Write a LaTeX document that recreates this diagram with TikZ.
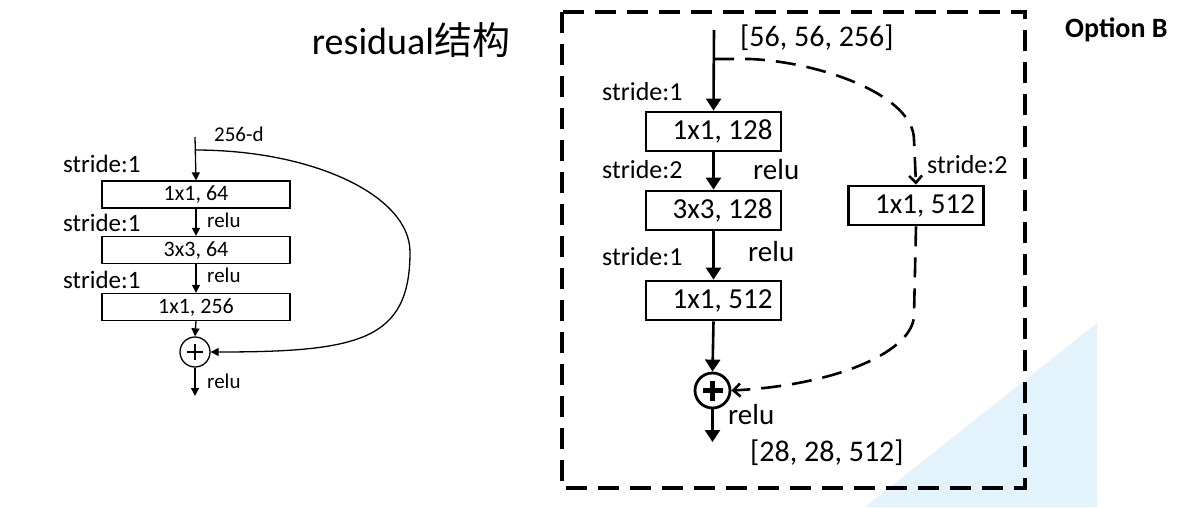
\documentclass[tikz,border=0pt]{standalone}
\usepackage{fontspec}
\setmainfont{Carlito}
\newfontfamily\cjk{Noto Sans CJK SC}
\usetikzlibrary{arrows.meta}
\definecolor{tri}{HTML}{E3F3FC}
\begin{document}
\begin{tikzpicture}[x=1pt,y=-1pt,
  lbox/.style={draw, line width=1.3pt, minimum width=188pt, minimum height=27pt, inner sep=0pt, font=\fontsize{22}{24}\selectfont},
  rbox/.style={draw, line width=2.8pt, minimum width=135pt, minimum height=39pt, inner sep=0pt, font=\fontsize{29}{32}\selectfont},
  lline/.style={line width=1.3pt, -{Triangle[length=8pt,width=8pt]}},
  rline/.style={line width=2.6pt, -{Triangle[length=12pt,width=15pt]}},
  rdash/.style={line width=2.6pt, dash pattern=on 20pt off 11pt, -{Straight Barb[length=7pt,width=13pt]}},
  lab/.style={anchor=west, inner sep=0pt},
  llab/.style={lab, font=\fontsize{25}{27}\selectfont},
  lrelu/.style={lab, font=\fontsize{21}{23}\selectfont},
  rlab/.style={lab, font=\fontsize{26}{28}\selectfont},
  rrelu/.style={lab, font=\fontsize{29}{31}\selectfont}
]
\useasboundingbox (0,0) rectangle (1184,507);
% background shape
\fill[tri] (865,507) -- (1097,323) -- (1097,507) -- cycle;

% title
\node[inner sep=0pt, font=\fontsize{38}{40}\selectfont] (title) at (411,40) {residual{\cjk 结构}};
\node[lab, font=\bfseries\fontsize{28}{30}\selectfont] (opt) at (1065,30) {Option B};

% ---------- left diagram ----------
\coordinate (lin) at (195,137);
\coordinate (lsplit) at (195,150);
\node[lbox] (lb1) at (196,194.5) {1x1, 64};
\node[lbox] (lb2) at (196,250) {3x3, 64};
\node[lbox] (lb3) at (196,307) {1x1, 256};
\node[circle, draw, line width=1.3pt, minimum size=30pt, inner sep=0pt] (lc) at (195,352) {};
\draw[line width=1.3pt] (lc.center) ++(-8,0) -- ++(16,0);
\draw[line width=1.3pt] (lc.center) ++(0,-8) -- ++(0,16);
\coordinate (lout) at (195,396);

\node[lab, font=\fontsize{21}{23}\selectfont] (l256) at (214,134) {256-d};
\node[llab] (ls1) at (63,164) {stride:1};
\node[llab] (ls2) at (63,223) {stride:1};
\node[llab] (ls3) at (63,280) {stride:1};
\node[lrelu] (lr1) at (207,220) {relu};
\node[lrelu] (lr2) at (207,275) {relu};
\node[lrelu] (lr3) at (207,381) {relu};

\draw[lline] (lin) -- (lb1.north);
\draw[lline] (lb1.south) -- (lb2.north);
\draw[lline] (lb2.south) -- (lb3.north);
\draw[lline] (lb3.south) -- (lc.north);
\draw[lline] (lc.south) -- (lout);
\draw[lline] (lsplit) .. controls (314,150) and (410,196) .. (410,252)
  .. controls (410,340) and (360,352) .. (lc.east);

% ---------- right diagram ----------
\draw[line width=3.2pt, dash pattern=on 21pt off 11pt] (562,12) rectangle (1025,488);
\coordinate (rin) at (714,30);
\coordinate (rsplit) at (714,59);
\node[rbox] (rb1) at (713.5,131.5) {\hspace*{18pt}1x1, 128};
\node[rbox] (rb2) at (713.5,210.5) {\hspace*{18pt}3x3, 128};
\node[rbox] (rb3) at (713.5,300.5) {\hspace*{18pt}1x1, 512};
\node[rbox] (rbs) at (916,205.5) {\hspace*{18pt}1x1, 512};
\node[circle, draw, line width=2.8pt, minimum size=35pt, inner sep=0pt] (rc) at (712.5,390.5) {};
\draw[line width=5pt] (rc.center) ++(-10,0) -- ++(20,0);
\draw[line width=5pt] (rc.center) ++(0,-10) -- ++(0,20);
\coordinate (rout) at (712.5,442);

\node[lab, font=\fontsize{30}{32}\selectfont] (rinl) at (740,38) {[56, 56, 256]};
\node[lab, font=\fontsize{30}{32}\selectfont] (routl) at (750,453) {[28, 28, 512]};
\node[rlab] (rs1) at (602,92) {stride:1};
\node[rlab] (rs2) at (602,170) {stride:2};
\node[rlab] (rs3) at (602,257) {stride:1};
\node[rlab] (rs4) at (927,165) {stride:2};
\node[rrelu] (rr1) at (753,170) {relu};
\node[rrelu] (rr2) at (748,252) {relu};
\node[rrelu] (rr3) at (728,415) {relu};

\draw[rline] (rin) -- (rb1.north);
\draw[rline] (rb1.south) -- (rb2.north);
\draw[rline] (rb2.south) -- (rb3.north);
\draw[rline] (rb3.south) -- (rc.north);
\draw[rline] (rc.south) -- (rout);
\draw[rdash] (rsplit) -- (750,59) .. controls (820,62) and (914,95) .. (914,140) -- (rbs.north);
\draw[rdash] (rbs.south) -- (914,315) .. controls (914,350) and (840,385) .. (rc.east);
\end{tikzpicture}
\end{document}
